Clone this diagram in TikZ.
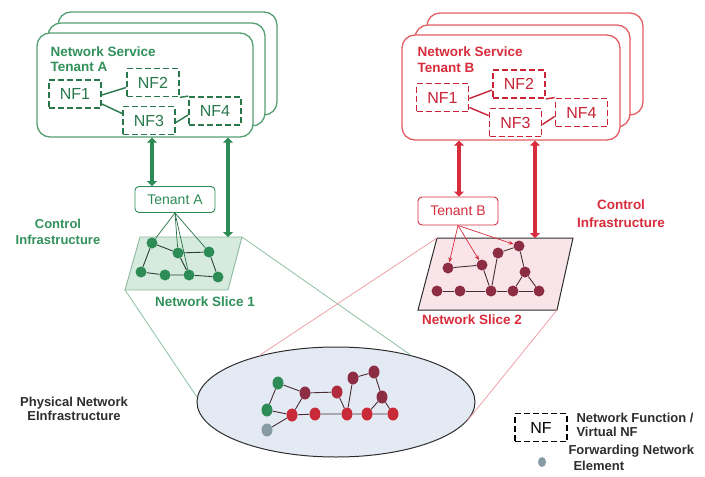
\documentclass[tikz,border=0pt]{standalone}
\usepackage{fontspec}
\setmainfont{Liberation Sans}
\usetikzlibrary{arrows.meta,shapes.geometric,backgrounds,calc}

\definecolor{gA}{RGB}{45,140,85}
\definecolor{gAtext}{RGB}{50,145,90}
\definecolor{gAedge}{RGB}{85,160,115}
\definecolor{gAdash}{RGB}{40,120,75}
\definecolor{rB}{RGB}{215,45,60}
\definecolor{rBedge}{RGB}{228,95,100}
\definecolor{rBdash}{RGB}{200,35,55}
\definecolor{maroonN}{RGB}{140,45,68}
\definecolor{redN}{RGB}{200,42,55}
\definecolor{sliceAfill}{RGB}{214,234,222}
\definecolor{sliceAline}{RGB}{140,185,160}
\definecolor{sliceBfill}{RGB}{248,228,233}
\definecolor{physfill}{RGB}{228,234,243}
\definecolor{grayN}{RGB}{135,155,165}
\definecolor{inkgray}{RGB}{45,45,45}

\tikzset{
  svcbox/.style={draw=#1, line width=1.3pt, rounded corners=13pt, fill=white},
  nfbox/.style={draw=#1, dash pattern=on 6pt off 3pt, line width=1.8pt,
    minimum width=52pt, minimum height=28pt, inner sep=0pt,
    font=\fontsize{16}{16}\selectfont},
  nflink/.style={draw=#1, line width=1.4pt},
  tenbox/.style={draw=#1, line width=0.9pt, rounded corners=4pt, fill=white,
    minimum width=80pt, minimum height=26pt, inner sep=0pt,
    font=\fontsize{14}{14}\selectfont},
  bigarrow/.style={draw=#1, line width=4.5pt,
    {Triangle[length=5pt,width=10pt]}-{Triangle[length=5pt,width=10pt]}},
  dotA/.style={circle, fill=gA, inner sep=0pt, minimum size=11pt},
  dotB/.style={circle, fill=maroonN, inner sep=0pt, minimum size=11pt},
  pdot/.style={ellipse, fill=#1, inner sep=0pt, minimum width=11pt, minimum height=13pt},
  edgeA/.style={draw=inkgray!80!gA, line width=0.9pt},
  edgeB/.style={draw=inkgray!70!maroonN, line width=0.9pt},
  fanA/.style={draw=gA!80!black, line width=0.7pt},
  fanB/.style={draw=rB, line width=0.7pt, -{Stealth[length=5pt,width=4pt]}},
  lbl/.style={font=\bfseries\fontsize{13}{16}\selectfont, align=center},
}

\begin{document}
\begin{tikzpicture}[x=1pt,y=-1pt]
\useasboundingbox (0,0) rectangle (705,477);

% ---------------- Network service stack, tenant A
\draw[svcbox=gAedge] (58,12) rectangle (277,115);
\draw[svcbox=gAedge] (48,23) rectangle (265,126);
\node[svcbox=gAedge, minimum width=216pt, minimum height=104pt] (svcA) at (145,85) {};
\node[anchor=north west, align=left, text=gAtext, font=\bfseries\fontsize{13.5}{15}\selectfont]
  (titleA) at (47,43) {Network Service\\Tenant A};

\node[nfbox=gAdash, text=gAdash] (nfa1) at (75,94) {NF1};
\node[nfbox=gAdash, text=gAdash] (nfa2) at (153,82.5) {NF2};
\node[nfbox=gAdash, text=gAdash] (nfa3) at (149,120.5) {NF3};
\node[nfbox=gAdash, text=gAdash] (nfa4) at (215,111) {NF4};
\draw[nflink=gAdash] ($(nfa1.east)+(0,1)$) -- ($(nfa2.west)+(0,5)$);
\draw[nflink=gAdash] ($(nfa1.east)+(0,10)$) -- ($(nfa3.west)+(0,-7)$);
\draw[nflink=gAdash] (nfa2.south east) -- (nfa4.north west);
\draw[nflink=gAdash] ($(nfa3.east)+(0,2)$) -- ($(nfa4.west)+(0,4)$);

% ---------------- Network service stack, tenant B
\draw[svcbox=rBedge] (427,13) rectangle (643,115);
\draw[svcbox=rBedge] (415,25) rectangle (630,127);
\node[svcbox=rBedge, minimum width=218pt, minimum height=105pt] (svcB) at (511,87.5) {};
\node[anchor=north west, align=left, text=rB, font=\bfseries\fontsize{13.5}{16}\selectfont]
  (titleB) at (414,43) {Network Service\\Tenant B};

\node[nfbox=rBdash, text=rBdash] (nfb1) at (442.5,97.5) {NF1};
\node[nfbox=rBdash, text=rBdash] (nfb2) at (519,84) {NF2};
\node[nfbox=rBdash, text=rBdash] (nfb3) at (515.5,122.5) {NF3};
\node[nfbox=rBdash, text=rBdash] (nfb4) at (581.5,112.5) {NF4};
\draw[nflink=rBdash] ($(nfb1.east)+(0,1)$) -- ($(nfb2.west)+(0,6)$);
\draw[nflink=rBdash] ($(nfb1.east)+(0,10)$) -- ($(nfb3.west)+(0,-7)$);
\draw[nflink=rBdash] (nfb2.south east) -- (nfb4.north west);
\draw[nflink=rBdash] ($(nfb3.east)+(0,2)$) -- ($(nfb4.west)+(0,4)$);

% ---------------- Tenant controllers
\node[tenbox=gA, text=gA] (tenA) at (175,199.5) {Tenant A};
\node[tenbox=rB, text=rB, minimum height=28pt] (tenB) at (458,211) {Tenant B};

% ---------------- Slice outlines
\coordinate (sa-tl) at (140,237);
\coordinate (sa-tr) at (242,237);
\coordinate (sa-br) at (228,290);
\coordinate (sa-bl) at (125,290);
\coordinate (sb-tl) at (437,238);
\coordinate (sb-tr) at (573,238);
\coordinate (sb-br) at (557,310);
\coordinate (sb-bl) at (418,310);

% slice 1 elements
\node[dotA] (a1) at (152,243) {};
\node[dotA] (a2) at (178,253) {};
\node[dotA] (a3) at (209,252) {};
\node[dotA] (a4) at (141,272) {};
\node[dotA] (a5) at (165,275) {};
\node[dotA] (a6) at (189,275) {};
\node[dotA] (a7) at (218,277) {};

% slice 2 elements
\node[dotB] (p1) at (448,268) {};
\node[dotB] (p2) at (482,265) {};
\node[dotB] (p3) at (498,253) {};
\node[dotB] (p4) at (519,246) {};
\node[dotB] (p5) at (525,272) {};
\node[dotB] (q1) at (437,291) {};
\node[dotB] (q2) at (460,291) {};
\node[dotB] (q3) at (491,291) {};
\node[dotB] (q4) at (513,291) {};
\node[dotB] (q5) at (539,291) {};

% physical elements
\node[pdot=gA] (g1) at (278,383) {};
\node[pdot=gA] (g2) at (267,410) {};
\node[pdot=grayN] (g0) at (267,430) {};
\node[pdot=maroonN] (r1) at (305,393) {};
\node[pdot=redN!60!maroonN] (r2) at (337,392) {};
\node[pdot=maroonN] (r3) at (353,378) {};
\node[pdot=maroonN] (r4) at (374,372) {};
\node[pdot=maroonN] (r5) at (382,397) {};
\node[pdot=redN] (b1) at (292,415) {};
\node[pdot=redN] (b2) at (315,414) {};
\node[pdot=redN] (b3) at (347,414) {};
\node[pdot=redN] (b4) at (367,414) {};
\node[pdot=redN] (b5) at (393,414) {};

\begin{scope}[on background layer]
  % slices
  \draw[fill=sliceAfill, draw=sliceAline, line width=0.9pt]
    (sa-tl) -- (sa-tr) -- (sa-br) -- (sa-bl) -- cycle;
  \draw[fill=sliceBfill, draw=inkgray, line width=1pt]
    (sb-tl) -- (sb-tr) -- (sb-br) -- (sb-bl) -- cycle;
  % physical network
  \node[ellipse, draw=inkgray, line width=1pt, fill=physfill,
        minimum width=278pt, minimum height=110pt] (phys) at (336,402) {};
  % projection lines from slices to the physical network
  \draw[draw=gA!55, line width=0.8pt] (sa-tr) -- (phys.32);
  \draw[draw=gA!55, line width=0.8pt] (sa-bl) -- (phys.178);
  \draw[draw=rB!45, line width=0.8pt] (sb-tl) -- (phys.149);
  \draw[draw=rB!45, line width=0.8pt] (sb-br) -- (phys.-8);
  % slice 1 links
  \draw[edgeA] (a4) -- (a1) -- (a2) -- (a3) -- (a7) -- (a6) -- (a5) -- (a4);
  \draw[edgeA] (a2) -- (a6);
  % tenant A control links
  \draw[fanA] (tenA.south) -- (a1);
  \draw[fanA] (tenA.south) -- (a2);
  \draw[fanA] (tenA.south) -- (a6);
  \draw[fanA] (tenA.south) -- (a3);
  % slice 2 links
  \draw[edgeB] (q1) -- (q2) -- (q3) -- (q4) -- (q5);
  \draw[edgeB] (p1) -- (p2) -- (q3);
  \draw[edgeB] (q3) -- (p3) -- (p4) -- (p5) -- (q4);
  \draw[edgeB] (p5) -- (q5);
  % tenant B control links
  \draw[fanB] (tenB.south) -- (p1);
  \draw[fanB] (tenB.south) -- (p2);
  \draw[fanB] (tenB.south) -- (p4);
  % physical links
  \draw[edgeB] (g1) -- (g2) -- (b1) -- (b2) -- (b3) -- (b4) -- (b5);
  \draw[edgeB] (g1) -- (r1) -- (r2) -- (b3);
  \draw[edgeB] (r1) -- (b1);
  \draw[edgeB] (b3) -- (r3) -- (r4) -- (r5) -- (b4);
  \draw[edgeB] (r5) -- (b5);
  \draw[edgeB] (g0) -- (b1);
\end{scope}

% ---------------- Control channels
\coordinate (xa1) at (152,0);
\coordinate (xa2) at (228,0);
\coordinate (xb1) at (459,0);
\coordinate (xb2) at (535,0);
\draw[bigarrow=gA] (xa1 |- svcA.south) -- (xa1 |- tenA.north);
\draw[bigarrow=gA] (xa2 |- svcA.south) -- (xa2 |- sa-tl);
\draw[bigarrow=rB] (xb1 |- svcB.south) -- (xb1 |- tenB.north);
\draw[bigarrow=rB] (xb2 |- svcB.south) -- (xb2 |- sb-tl);

% ---------------- Labels
\node[lbl, text=gAtext] (ctlA) at (58,232) {Control\\Infrastructure};
\node[lbl, text=rB, font=\bfseries\fontsize{13.5}{18}\selectfont] (ctlB) at (621,214) {Control\\Infrastructure};
\node[lbl, text=gAtext, font=\bfseries\fontsize{13.5}{16}\selectfont] (nsA) at (205,302) {Network Slice 1};
\node[lbl, text=rB, font=\bfseries\fontsize{13.5}{16}\selectfont] (nsB) at (472,320) {Network Slice 2};
\node[lbl, text=inkgray, font=\bfseries\fontsize{13}{14}\selectfont] (physlbl) at (74,409) {Physical Network\\EInfrastructure};

% ---------------- Legend
\node[nfbox=black, text=black] (lgnf) at (541,427.5) {NF};
\node[anchor=north west, align=left, text=inkgray, font=\bfseries\fontsize{13}{14}\selectfont]
  (lgnftxt) at (573,410) {Network Function /\\Virtual NF};
\node[pdot=grayN, minimum width=8pt, minimum height=10pt] (lgdot) at (542,462) {};
\node[anchor=north west, align=left, text=inkgray, font=\bfseries\fontsize{13}{16}\selectfont]
  (lgdottxt) at (565,442) {Forwarding Network\\\hspace*{5pt}Element};
\end{tikzpicture}
\end{document}
